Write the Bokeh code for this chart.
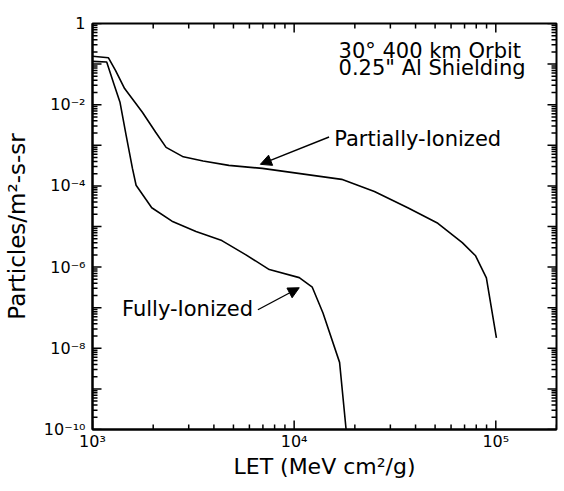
import math
from bokeh.plotting import figure
from bokeh.models import (FixedTicker, CustomJSTickFormatter, Label,
                          Arrow, NormalHead, Range1d)
from bokeh.embed import file_html
from bokeh.resources import INLINE

# ---- data ----
LET_PARTIAL = [1000, 1200, 1300, 1443, 1764, 2057, 2317, 2820, 3535, 4745, 6950,
               17200, 25000, 36600, 51600, 68200, 79400, 89800, 100700]
FLUX_PARTIAL = [0.156, 0.143, 0.07, 0.025, 0.0066, 0.0021, 8.9e-4, 5.2e-4, 4.1e-4,
                3.2e-4, 2.7e-4, 1.45e-4, 7.3e-5, 2.9e-5, 1.2e-5, 4e-6, 1.9e-6,
                5.4e-7, 1.8e-8]
LET_FULL = [1000, 1176, 1285, 1370, 1470, 1578, 1645, 1967, 2478, 3260, 4380,
            5770, 7530, 10600, 12300, 13900, 16800, 18100]
FLUX_FULL = [0.117, 0.113, 0.0294, 0.0113, 0.0017, 2.7e-4, 1.04e-4, 2.9e-5,
             1.35e-5, 7.5e-6, 4.5e-6, 2e-6, 8.7e-7, 5.5e-7, 3.2e-7, 7.4e-8,
             4.5e-9, 1e-10]

X_RANGE = (1e3, 2e5)
Y_RANGE = (1e-10, 1.0)
X_MAJOR = [1e3, 1e4, 1e5]
X_MINOR = [m * 10 ** k for k in (3, 4) for m in range(2, 10)] + [2e5]
Y_MAJOR = [10.0 ** k for k in range(-10, 1)]
Y_MINOR = [m * 10.0 ** k for k in range(-10, 0) for m in range(2, 10)]

TITLE_LINES = ["30\u00b0 400 km Orbit", "0.25\" Al Shielding"]
TITLE_POS = [(16600, 0.216), (16600, 0.078)]
PARTIAL_LABEL = "Partially-Ionized"
PARTIAL_LABEL_POS = (15800, 1.4e-3)
PARTIAL_ARROW = (14900, 1.6e-3, 6800, 3.4e-4)
FULL_LABEL = "Fully-Ionized"
FULL_LABEL_POS = (6250, 9.3e-8)
FULL_ARROW = (6610, 8.9e-8, 10600, 3.1e-7)

FONT = "DejaVu Sans"

p = figure(width=560, height=490, x_axis_type="log", y_axis_type="log",
           x_range=Range1d(*X_RANGE), y_range=Range1d(*Y_RANGE),
           output_backend="svg", toolbar_location=None,
           min_border_left=91, min_border_right=4, min_border_top=23,
           min_border_bottom=61)
p.background_fill_color = "white"
p.border_fill_color = "white"
p.outline_line_color = "black"
p.outline_line_width = 2
p.grid.visible = False

bottom = p.below[0]
left = p.left[0]

js = """
const e = Math.round(Math.log10(tick));
if (skip_odd && (e % 2 != 0)) return "";
if (e == 0) return "1";
const sup = {"0":"\u2070","1":"\u00b9","2":"\u00b2","3":"\u00b3","4":"\u2074",
             "5":"\u2075","6":"\u2076","7":"\u2077","8":"\u2078","9":"\u2079","-":"\u207b"};
return "10" + String(e).split("").map(c => sup[c]).join("");
"""
xt = FixedTicker(ticks=X_MAJOR, minor_ticks=X_MINOR)
yt = FixedTicker(ticks=Y_MAJOR, minor_ticks=Y_MINOR)

bottom.ticker = xt
bottom.formatter = CustomJSTickFormatter(code=js, args=dict(skip_odd=False))
left.ticker = yt
left.formatter = CustomJSTickFormatter(code=js, args=dict(skip_odd=True))

for ax in [bottom, left]:
    ax.axis_line_color = "black"
    ax.axis_line_width = 2
    ax.major_tick_in = 0
    ax.major_tick_out = 0
    ax.minor_tick_in = 0
    ax.minor_tick_out = 0
    ax.major_label_text_font = FONT
    ax.major_label_text_font_size = "16px"
    ax.major_label_text_color = "black"
    ax.axis_label_text_font = FONT
    ax.axis_label_text_font_style = "normal"
    ax.axis_label_text_color = "black"

bottom.axis_label = "LET (MeV cm\u00b2/g)"
left.axis_label = "Particles/m\u00b2-s-sr"
bottom.axis_label_text_font_size = "22px"
left.axis_label_text_font_size = "23px"
bottom.major_label_standoff = 2
left.major_label_standoff = 7
bottom.axis_label_standoff = 0
left.axis_label_standoff = 11

# inward tick marks on all four sides, drawn as dash markers centred on the frame edge
def ticks(xs, ys, angle, size):
    p.scatter(xs, ys, marker="dash", size=size, angle=angle,
              line_color="black", line_width=1.5)

for vals, size in [(X_MAJOR, 18), (X_MINOR, 10)]:
    ticks(vals, [Y_RANGE[0]] * len(vals), math.pi / 2, size)
    ticks(vals, [Y_RANGE[1]] * len(vals), math.pi / 2, size)
for vals, size in [(Y_MAJOR, 18), (Y_MINOR, 10)]:
    ticks([X_RANGE[0]] * len(vals), vals, 0, size)
    ticks([X_RANGE[1]] * len(vals), vals, 0, size)

p.line(LET_PARTIAL, FLUX_PARTIAL, line_color="black", line_width=1.6)
p.line(LET_FULL, FLUX_FULL, line_color="black", line_width=1.6)

for txt, (x, y) in zip(TITLE_LINES, TITLE_POS):
    p.add_layout(Label(x=x, y=y, text=txt, text_font=FONT, text_font_size="21px",
                       text_baseline="middle", text_align="left", text_color="black"))

p.add_layout(Label(x=PARTIAL_LABEL_POS[0], y=PARTIAL_LABEL_POS[1], text=PARTIAL_LABEL,
                   text_font=FONT, text_font_size="21px", text_baseline="middle",
                   text_align="left", text_color="black"))
p.add_layout(Label(x=FULL_LABEL_POS[0], y=FULL_LABEL_POS[1], text=FULL_LABEL,
                   text_font=FONT, text_font_size="21px", text_baseline="middle",
                   text_align="right", text_color="black"))

for (xs, ys, xe, ye) in [PARTIAL_ARROW, FULL_ARROW]:
    p.add_layout(Arrow(end=NormalHead(size=11, fill_color="black", line_color="black"),
                       x_start=xs, y_start=ys, x_end=xe, y_end=ye,
                       line_color="black", line_width=1.4))

open("out.html", "w", encoding="utf-8").write(file_html(p, INLINE))
